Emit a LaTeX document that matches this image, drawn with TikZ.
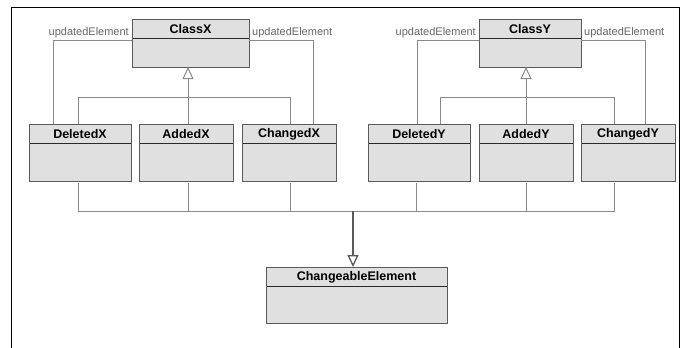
\documentclass[tikz,border=0pt]{standalone}
\usepackage{fontspec}
\setmainfont{Liberation Sans}
\usetikzlibrary{arrows.meta,calc}

\definecolor{boxfill}{HTML}{E0E0E0}
\definecolor{boxedge}{HTML}{5A5A5A}
\definecolor{hdrline}{HTML}{2A2A2A}
\definecolor{wire}{HTML}{8A8A8A}
\definecolor{wiredark}{HTML}{5A5A5A}
\definecolor{roletext}{HTML}{666666}

\tikzset{
  classbox/.style={draw=boxedge, fill=boxfill, line width=1pt,
    rectangle, inner sep=0pt, outer sep=0pt},
  classtitle/.style={font=\bfseries\fontsize{12.5}{14}\selectfont,
    text=black, inner sep=0pt},
  rolelabel/.style={font=\fontsize{11}{13}\selectfont, text=roletext,
    inner sep=0pt},
  assoc/.style={draw=wire, line width=1pt},
  gen/.style={draw=wire, line width=1pt},
  genhead/.style={-{Triangle[open, length=12pt, width=11pt, fill=white]},
    draw=wiredark, line width=1.3pt},
  frameline/.style={draw=black, line width=1.6pt}
}

% class box: name, x1, y1, x2, y2, title (pixel-style coordinates, y downwards)
\newcommand\umlclass[6]{%
  \node[classbox, minimum width={(#4-#2)*1pt}, minimum height={(#5-#3)*1pt}]
    (#1) at ({(#2+#4)/2},{(#3+#5)/2}) {};
  \draw[hdrline, line width=1pt] ([yshift=-19pt]#1.north west) -- ([yshift=-19pt]#1.north east);
  \draw[boxedge, line width=1pt] (#1.north west) rectangle (#1.south east);
  \node[classtitle] (#1-title) at ([yshift=-10pt]#1.north) {#6};
}

\begin{document}
\begin{tikzpicture}[x=1pt, y=-1pt]
  \useasboundingbox (0,0) rectangle (686,348);

  % outer frame, open at the bottom
  \draw[frameline] (11.5,350) -- (11.5,7.5) -- (679.5,7.5) -- (679.5,350);

  % classes
  \umlclass{ClassX}{132}{19}{249}{67}{ClassX}
  \umlclass{ClassY}{479}{19}{581}{67}{ClassY}
  \umlclass{DeletedX}{29}{124}{131}{181}{DeletedX}
  \umlclass{AddedX}{139}{124}{233}{181}{AddedX}
  \umlclass{ChangedX}{242}{124}{336}{181}{ChangedX}
  \umlclass{DeletedY}{368}{124}{470}{181}{DeletedY}
  \umlclass{AddedY}{479}{124}{573}{181}{AddedY}
  \umlclass{ChangedY}{581}{124}{675}{181}{ChangedY}
  \umlclass{Changeable}{266}{267}{447}{323}{ChangeableElement}

  % column positions of the connectors
  \coordinate (uxl) at (53,40);
  \coordinate (uxr) at (313,40);
  \coordinate (uyl) at (417,40);
  \coordinate (uyr) at (645,40);
  \coordinate (gbx) at (188,97);
  \coordinate (gby) at (526,97);
  \coordinate (cDX) at (78,0);
  \coordinate (cAX) at (188,0);
  \coordinate (cCX) at (290,0);
  \coordinate (cDY) at (440,0);
  \coordinate (cAY) at (526,0);
  \coordinate (cCY) at (614,0);
  \coordinate (dDY) at (416,0);
  \coordinate (bus) at (353,211);

  % updatedElement associations
  \draw[assoc] (ClassX.west |- uxl) -- (uxl) -- (uxl |- DeletedX.north);
  \draw[assoc] (ClassX.east |- uxr) -- (uxr) -- (uxr |- ChangedX.north);
  \draw[assoc] (ClassY.west |- uyl) -- (uyl) -- (uyl |- DeletedY.north);
  \draw[assoc] (ClassY.east |- uyr) -- (uyr) -- (uyr |- ChangedY.north);

  \node[rolelabel, anchor=base east] (lxl) at ([xshift=-3pt, yshift=-16pt]ClassX.north west) {updatedElement};
  \node[rolelabel, anchor=base west] (lxr) at ([xshift=3pt, yshift=-16pt]ClassX.north east) {updatedElement};
  \node[rolelabel, anchor=base east] (lyl) at ([xshift=-3pt, yshift=-16pt]ClassY.north west) {updatedElement};
  \node[rolelabel, anchor=base west] (lyr) at ([xshift=3pt, yshift=-16pt]ClassY.north east) {updatedElement};

  % generalisation to ClassX
  \draw[gen] (cDX |- DeletedX.north) -- (cDX |- gbx) -- (cCX |- gbx) -- (cCX |- ChangedX.north);
  \draw[gen] (cAX |- AddedX.north) -- (gbx);
  \draw[genhead, draw=wire, line width=1pt] (gbx) -- (gbx |- ClassX.south);

  % generalisation to ClassY
  \draw[gen] (cDY |- DeletedY.north) -- (cDY |- gby) -- (cCY |- gby) -- (cCY |- ChangedY.north);
  \draw[gen] (cAY |- AddedY.north) -- (gby);
  \draw[genhead, draw=wire, line width=1pt] (gby) -- (gby |- ClassY.south);

  % generalisation of all six to ChangeableElement
  \draw[gen] ([yshift=-2pt]cDX |- DeletedX.south) -- (cDX |- bus) -- (cCY |- bus) -- ([yshift=-2pt]cCY |- ChangedY.south);
  \foreach \c/\b in {cAX/AddedX, cCX/ChangedX, dDY/DeletedY, cAY/AddedY}
    \draw[gen] ([yshift=-2pt]\c |- \b.south) -- (\c |- bus);
  \draw[genhead] (bus) -- (bus |- Changeable.north);
\end{tikzpicture}
\end{document}
